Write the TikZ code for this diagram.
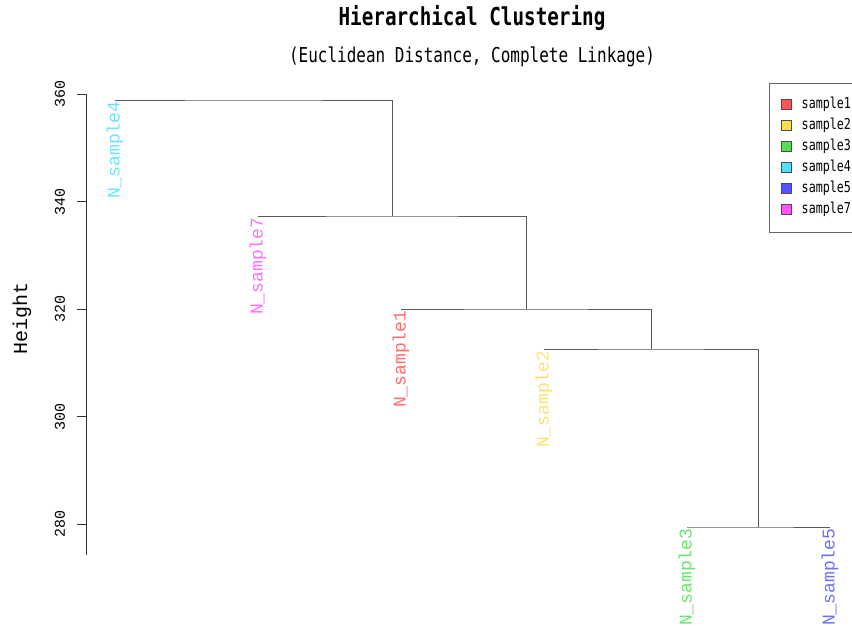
\documentclass[tikz,border=0pt]{standalone}
\usepackage{fontspec}
\setmainfont{DejaVu Sans Mono}
\newfontfamily\consfont[FakeStretch=0.78]{DejaVu Sans Mono}
\newfontfamily\courfont{Liberation Mono}
\definecolor{c1}{RGB}{255,85,85}
\definecolor{c2}{RGB}{255,221,85}
\definecolor{c3}{RGB}{85,221,85}
\definecolor{c4}{RGB}{85,221,255}
\definecolor{c5}{RGB}{85,85,255}
\definecolor{c7}{RGB}{255,85,255}

\begin{document}
\begin{tikzpicture}[x=1pt, y=-1pt,
	link/.style = {draw=black!65, line width=0.9pt},
	leaf/.style = {rotate=90, anchor=east, inner sep=1.5pt, font=\courfont\fontsize{18}{18}\selectfont},
	tick/.style = {rotate=90, font=\courfont\fontsize{15}{15}\selectfont},
	key/.style = {draw=black!70, minimum size=10pt, inner sep=0pt}]
	\useasboundingbox (0,0) rectangle (852,635);
	\clip (0,0) rectangle (852,635);
	% titles
	\node (title) at (472,18) {\consfont\bfseries\fontsize{24.7}{25}\selectfont Hierarchical Clustering};
	\node (sub) at (472,57) {\consfont\fontsize{20.5}{21}\selectfont (Euclidean Distance, Complete Linkage)};
	% axis
	\coordinate (atop) at (86,94.3);
	\coordinate (abot) at (86,555);
	\draw[link, draw=black!80] (atop) -- (abot);
	\foreach \h in {360,340,320,300,280} {
		\coordinate (t\h) at (86,{94.3+(360-\h)*5.375});
		\draw[link, draw=black!80] (t\h) -- ++(-9,0);
		\node[tick] (l\h) at ([xshift=-26pt]t\h) {\h};
	}
	\node[rotate=90, font=\courfont\fontsize{20}{20}\selectfont] (ylab) at (22,318.5) {Height};
	% merges
	\coordinate (m1) at (758.5,527);
	\coordinate (m2) at (651,349);
	\coordinate (m3) at (526,309);
	\coordinate (m4) at (392,216);
	\coordinate (m5) at (253.5,100);
	% leaves
	\coordinate (s4) at (115,100);
	\coordinate (s7) at (258,216);
	\coordinate (s1) at (401,309);
	\coordinate (s2) at (544,349);
	\coordinate (s3) at (687,527);
	\coordinate (s5) at (830,527);
	\node[leaf, text=c4!85] (n4) at (s4) {N\_sample4};
	\node[leaf, text=c7!85] (n7) at (s7) {N\_sample7};
	\node[leaf, text=c1!85] (n1) at (s1) {N\_sample1};
	\node[leaf, text=c2!85] (n2) at (s2) {N\_sample2};
	\node[leaf, text=c3!85] (n3) at (s3) {N\_sample3};
	\node[leaf, text=c5!85] (n5) at (s5) {N\_sample5};
	% links
	\draw[link] (s3) |- (m1) -| (s5);
	\draw[link] (s2) |- (m2) -| (m1);
	\draw[link] (s1) |- (m3) -| (m2);
	\draw[link] (s7) |- (m4) -| (m3);
	\draw[link] (s4) |- (m5) -| (m4);
	% legend
	\node[draw=black!60, line width=0.8pt, minimum width=100pt, minimum height=149pt, anchor=north west] (legend) at (769.3,82.7) {};
	\foreach \c/\s [count=\i from 0] in {c1/sample1, c2/sample2, c3/sample3, c4/sample4, c5/sample5, c7/sample7} {
		\node[key, fill=\c] (k\i) at (786,{104+21*\i}) {};
		\node[anchor=west, inner sep=0pt, font=\consfont\fontsize{15}{15}\selectfont] (e\i) at (801.5,{104+21*\i}) {\s};
	}
\end{tikzpicture}
\end{document}
